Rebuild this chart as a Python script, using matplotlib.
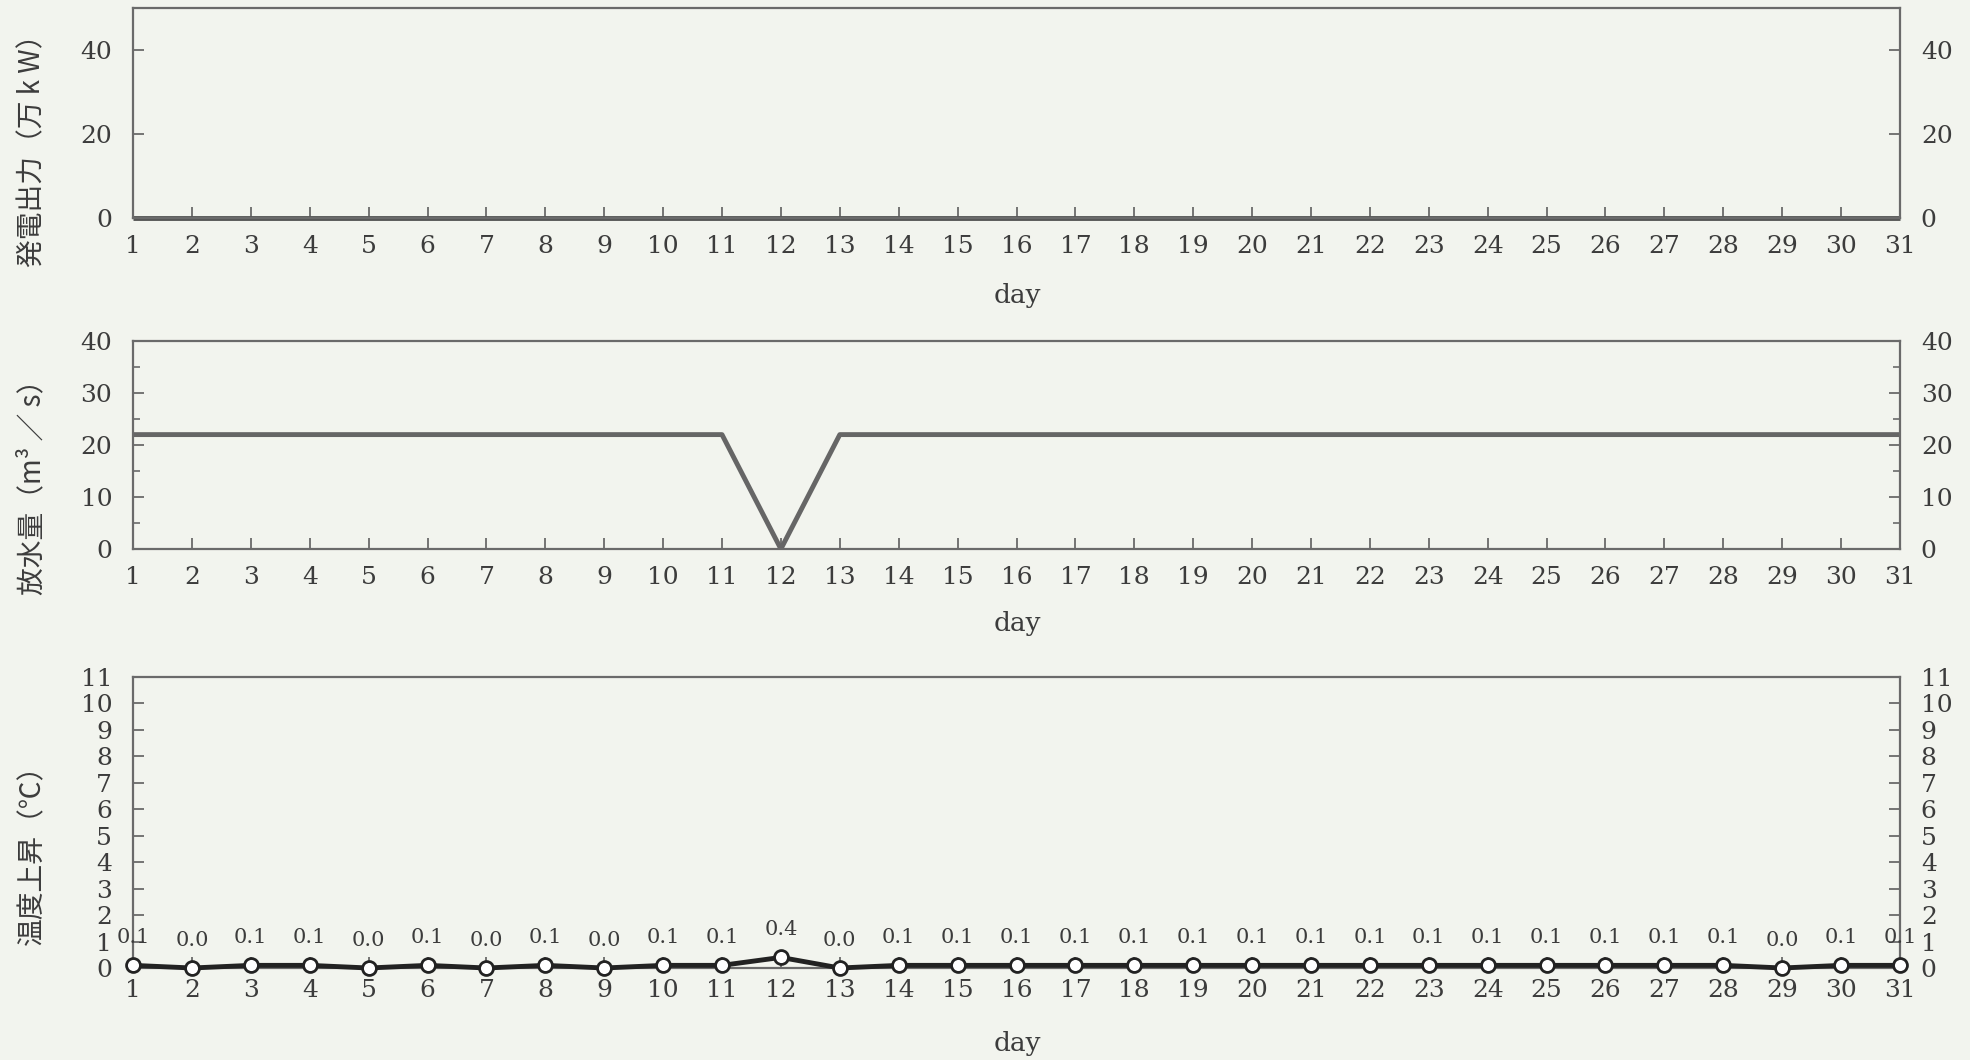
import matplotlib
matplotlib.use("Agg")
import matplotlib.pyplot as plt
from matplotlib.ticker import MultipleLocator

# データ
days = list(range(1, 32))
power = [0] * 31  # 発電出力（万kW）
discharge = [22] * 11 + [0] + [22] * 19  # 放水量（m3/s）
temp_rise = [0.1, 0.0, 0.1, 0.1, 0.0, 0.1, 0.0, 0.1, 0.0, 0.1,
             0.1, 0.4, 0.0, 0.1, 0.1, 0.1, 0.1, 0.1, 0.1, 0.1,
             0.1, 0.1, 0.1, 0.1, 0.1, 0.1, 0.1, 0.1, 0.0, 0.1, 0.1]

ylabels = ["発電出力（万 k W）", "放水量（m³ ／ s）", "温度上昇（℃）"]

paper = "#f2f4ee"
ink = "#3c3c3c"
jp_font = ["Noto Sans CJK JP", "DejaVu Sans"]

plt.rcParams["font.family"] = ["DejaVu Serif"]
plt.rcParams["text.color"] = ink
plt.rcParams["axes.edgecolor"] = "#6a6a6a"
plt.rcParams["xtick.color"] = "#6a6a6a"
plt.rcParams["ytick.color"] = "#6a6a6a"
plt.rcParams["xtick.labelcolor"] = ink
plt.rcParams["ytick.labelcolor"] = ink

fig = plt.figure(figsize=(19.7, 10.6), dpi=100, facecolor=paper)

W, H = 1970, 1060
left, right = 133, 1900
# (top, bottom) in pixels
boxes = [(8, 218), (341, 549), (677, 968)]
axes = []
for top, bottom in boxes:
    ax = fig.add_axes([left / W, 1 - bottom / H, (right - left) / W, (bottom - top) / H])
    ax.set_facecolor(paper)
    axes.append(ax)

ax1, ax2, ax3 = axes

# 発電出力
ax1.plot(days, power, color="#555555", linewidth=3.5, solid_capstyle="butt", clip_on=False)
ax1.set_ylim(0, 50)
ax1.yaxis.set_major_locator(MultipleLocator(20))

# 放水量
ax2.plot(days, discharge, color="#666666", linewidth=3.5)
ax2.set_ylim(0, 40)
ax2.yaxis.set_major_locator(MultipleLocator(10))
ax2.yaxis.set_minor_locator(MultipleLocator(5))

# 温度上昇
ax3.plot(days, temp_rise, color="#222222", linewidth=3.5, marker="o", markersize=10,
         markerfacecolor="white", markeredgecolor="#222222", markeredgewidth=2, clip_on=False, zorder=5)
for d, v in zip(days, temp_rise):
    ax3.annotate(f"{v:.1f}", (d, v), xytext=(0, 20), textcoords="offset points",
                 ha="center", va="center", fontsize=15, color=ink)
ax3.set_ylim(0, 11)
ax3.yaxis.set_major_locator(MultipleLocator(1))

for i, ax in enumerate(axes):
    ax.set_xlim(1, 31)
    ax.set_xticks(days)
    for s in ax.spines.values():
        s.set_linewidth(1.6)
    ax.tick_params(axis="both", which="both", direction="in", right=True, labelright=True,
                   top=False, labelsize=18)
    ax.tick_params(axis="both", which="major", length=8, width=1.3)
    ax.tick_params(axis="y", which="minor", length=5, width=1.2)
    ax.tick_params(axis="y", which="major", pad=15)
    ax.tick_params(axis="x", which="major", pad=12 if i < 2 else 8)

# 縦軸ラベル
label_y = [144, 480, 848]
for text, y in zip(ylabels, label_y):
    fig.text(32 / W, 1 - y / H, text, rotation=90, ha="center", va="center",
             fontsize=20, family=jp_font, color=ink)

# 横軸ラベル
for y in [295, 624, 1043]:
    fig.text(1017 / W, 1 - y / H, "day", ha="center", va="center", fontsize=19, color=ink)

fig.savefig("out.png", dpi=100, facecolor=paper)
